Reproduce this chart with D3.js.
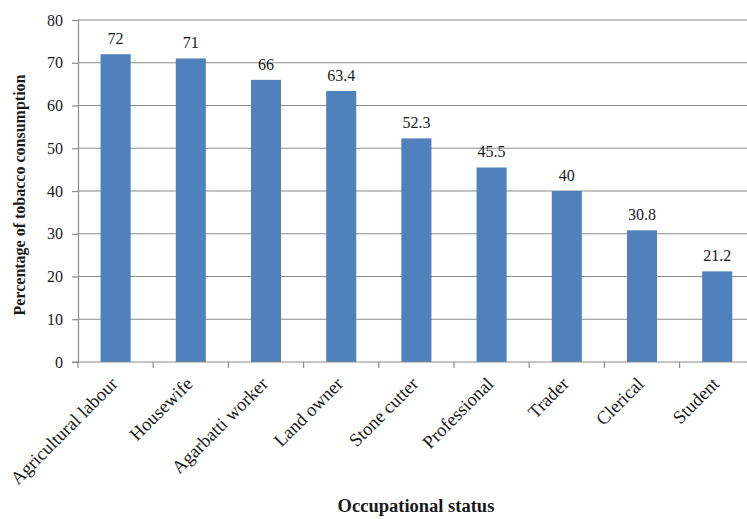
<!DOCTYPE html>
<html>
<head>
<meta charset="utf-8">
<script src="https://cdn.jsdelivr.net/npm/d3@7"></script>
<style>
  html, body { margin: 0; padding: 0; background: #fff; }
  svg { display: block; }
  text { font-family: "Liberation Serif", "DejaVu Serif", serif; fill: #1a1a1a; }
</style>
</head>
<body>
<svg id="chart" width="747" height="519"></svg>
<script>
// Share of tobacco users by occupational group
const categories = ["Agricultural labour", "Housewife", "Agarbatti worker", "Land owner",
                    "Stone cutter", "Professional", "Trader", "Clerical", "Student"];
const values = [72, 71, 66, 63.4, 52.3, 45.5, 40, 30.8, 21.2];
const yTicks = [0, 10, 20, 30, 40, 50, 60, 70, 80];
const xTitle = "Occupational status";
const yTitle = "Percentage of tobacco consumption";

const svg = d3.select("#chart");
const margin = { left: 78, top: 20, bottom: 362 };
const plotRight = 78 + 9 * 75.2; // plot area runs past the right edge

const x = d3.scaleBand().domain(categories).range([margin.left, plotRight]).paddingInner(0.6).paddingOuter(0.3);
const y = d3.scaleLinear().domain([0, 80]).range([margin.bottom, margin.top]);

// horizontal gridlines
svg.append("g")
  .selectAll("line")
  .data(yTicks.filter(d => d > 0))
  .join("line")
  .attr("x1", margin.left).attr("x2", plotRight)
  .attr("y1", d => y(d)).attr("y2", d => y(d))
  .attr("stroke", "#8c8c8c").attr("stroke-width", 1.2);

// bars
svg.append("g")
  .selectAll("rect")
  .data(categories)
  .join("rect")
  .attr("x", d => x(d))
  .attr("width", x.bandwidth())
  .attr("y", (d, i) => y(values[i]))
  .attr("height", (d, i) => y(0) - y(values[i]))
  .attr("fill", "#4f81bd");

// value labels
svg.append("g")
  .selectAll("text")
  .data(categories)
  .join("text")
  .attr("x", d => x(d) + x.bandwidth() / 2)
  .attr("y", (d, i) => y(values[i]) - 10)
  .attr("text-anchor", "middle")
  .style("font-size", "16px")
  .text((d, i) => values[i]);

// y axis
const yAxis = svg.append("g")
  .attr("transform", `translate(${margin.left},0)`)
  .call(d3.axisLeft(y).tickValues(yTicks).tickSize(6).tickPadding(9).tickFormat(d3.format("d")));
yAxis.selectAll("path, line").attr("stroke", "#8c8c8c").attr("stroke-width", 1.2);
yAxis.selectAll("text").style("font-size", "16px").attr("fill", "#1a1a1a");

// x axis with ticks between categories
const boundaries = d3.range(0, categories.length + 1).map(i => margin.left + i * x.step());
const xAxisG = svg.append("g");
xAxisG.append("line")
  .attr("x1", margin.left - 6).attr("x2", plotRight)
  .attr("y1", y(0)).attr("y2", y(0))
  .attr("stroke", "#8c8c8c").attr("stroke-width", 1.2);
xAxisG.selectAll("line.tick")
  .data(boundaries)
  .join("line")
  .attr("class", "tick")
  .attr("x1", d => d).attr("x2", d => d)
  .attr("y1", y(0)).attr("y2", y(0) + 6)
  .attr("stroke", "#8c8c8c").attr("stroke-width", 1.2);

// rotated category labels
svg.append("g")
  .selectAll("text")
  .data(categories)
  .join("text")
  .attr("transform", d => `translate(${x(d) + x.bandwidth() / 2 + 3},${y(0) + 23}) rotate(-45)`)
  .attr("text-anchor", "end")
  .style("font-size", "18.5px")
  .text(d => d);

// axis titles
svg.append("text")
  .attr("x", 416).attr("y", 512)
  .attr("text-anchor", "middle")
  .style("font-size", "18.5px").style("font-weight", "bold")
  .text(xTitle);

svg.append("text")
  .attr("transform", `translate(25,195) rotate(-90)`)
  .attr("text-anchor", "middle")
  .style("font-size", "16px").style("font-weight", "bold")
  .text(yTitle);
</script>
</body>
</html>
